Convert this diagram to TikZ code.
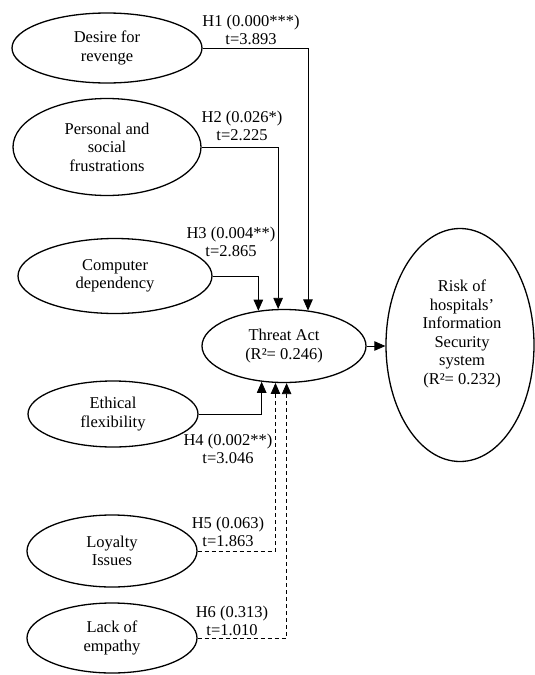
\documentclass[tikz,border=0pt]{standalone}
\usepackage{fontspec}
\setmainfont{Liberation Serif}
\usetikzlibrary{shapes.geometric,arrows.meta}
\begin{document}
\begin{tikzpicture}[x=1pt,y=-1pt,
  ell/.style={draw, ellipse, line width=1.3pt, inner sep=0pt, align=center, font=\fontsize{16.5}{18.5}\selectfont},
  txt/.style={align=center, inner sep=0pt, font=\fontsize{16.5}{18.5}\selectfont},
  lab/.style={align=center, inner sep=0pt, font=\fontsize{16.5}{17.5}\selectfont},
  conn/.style={line width=0.8pt, -{Triangle[length=11pt,width=9.5pt]}},
  dconn/.style={conn, dash pattern=on 4pt off 3pt}]
\useasboundingbox (0,0) rectangle (535,675);

% source constructs
\node[ell, minimum width=190pt, minimum height=70pt] (dr) at (107,48) {Desire for\\revenge};
\node[ell, minimum width=188pt, minimum height=97pt] (ps) at (107,147) {Personal and\\social\\frustrations};
\node[ell, minimum width=194pt, minimum height=75pt] (cd) at (115,276) {Computer\\dependency};
\node[ell, minimum width=170pt, minimum height=66pt] (ef) at (113,414) {Ethical\\flexibility};
\node[ell, minimum width=170pt, minimum height=72pt] (li) at (112,551) {Loyalty\\Issues};
\node[ell, minimum width=170pt, minimum height=70pt] (le) at (112,638) {Lack of\\empathy};

% mediator and outcome
\node[ell, minimum width=164pt, minimum height=73pt] (ta) at (284,346) {Threat Act\\(R²= 0.246)};
\node[ell, minimum width=148pt, minimum height=233pt] (risk) at (460,345) {};
\node[txt] (riskt) at (462,334) {Risk of\\hospitals’\\Information\\Security\\system\\(R²= 0.232)};

% connectors
\draw[conn] (dr.east) -| (ta.56);
\draw[conn] (ps.east) -| (ta.99);
\draw[conn] (cd.east) -| (ta.126.5);
\draw[conn] (ef.east) -| (ta.238.3);
\draw[dconn] (li.east) -| (ta.257.7);
\draw[dconn] (le.east) -| (ta.274.6);
\draw[conn] (ta.east) -- (ta.east -| risk.west);

% labels
\node[lab] (l1) at (251,30) {H1 (0.000***)\\t=3.893};
\node[lab] (l2) at (242,126) {H2 (0.026*)\\t=2.225};
\node[lab] (l3) at (231,242) {H3 (0.004**)\\t=2.865};
\node[lab] (l4) at (228,449) {H4 (0.002**)\\t=3.046};
\node[lab] (l5) at (228,532) {H5 (0.063)\\t=1.863};
\node[lab] (l6) at (232,621) {H6 (0.313)\\t=1.010};
\end{tikzpicture}
\end{document}
